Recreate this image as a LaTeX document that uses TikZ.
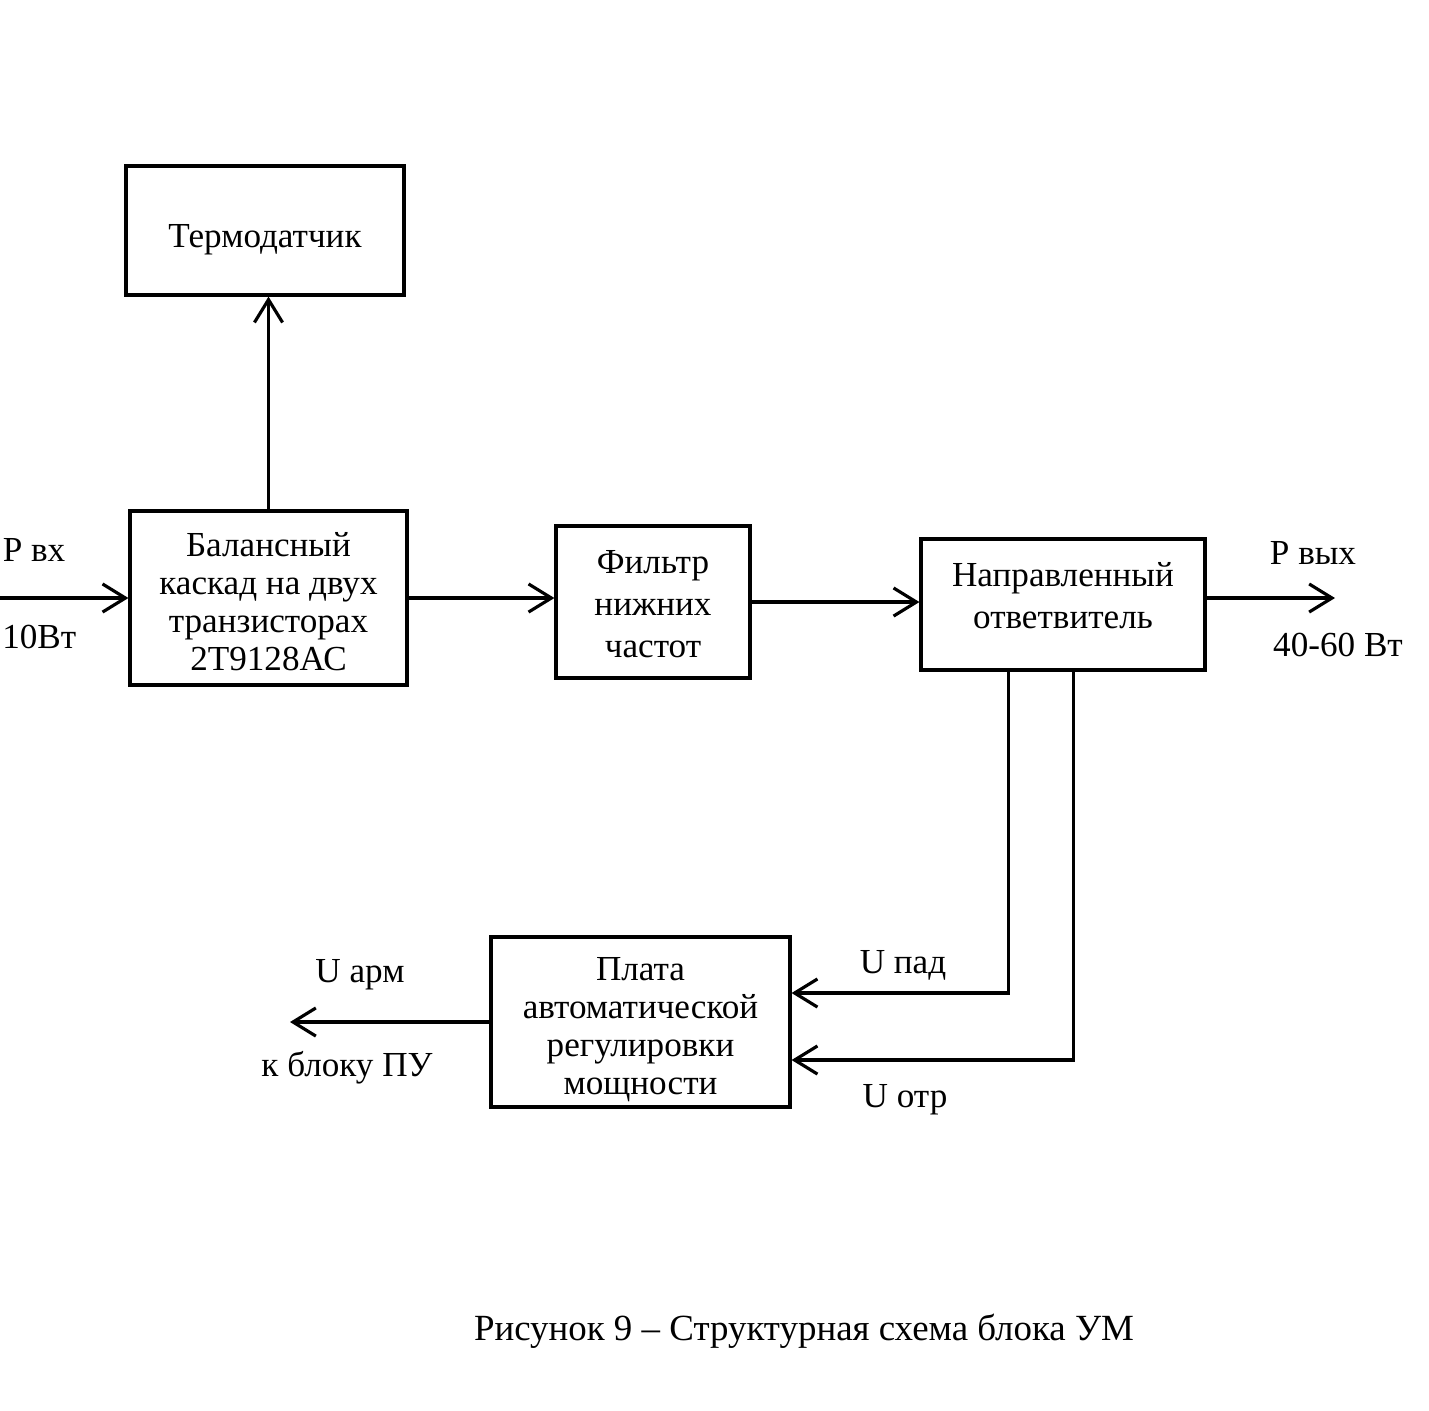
\documentclass[tikz,border=0pt]{standalone}
\usepackage{fontspec}
\setmainfont{Liberation Serif}
\usetikzlibrary{arrows.meta,calc}
\newcommand{\btxt}[3]{\raisebox{#1}[\height][\depth]{\def\arraystretch{#2}\begin{tabular}{@{}c@{}}#3\end{tabular}}}
\begin{document}
\begin{tikzpicture}[
  blk/.style={draw, line width=0.9pt, inner sep=0pt, font=\fontsize{10}{10.8}\selectfont},
  lbl/.style={inner sep=0pt, font=\fontsize{10}{10.8}\selectfont},
  arr/.style={line width=0.9pt, -{Straight Barb[length=6.5pt,width=8pt,line width=0.9pt]}},
  ln/.style={line width=0.9pt}
]
\useasboundingbox (0,0) rectangle (14.29,-14.10);
\fill[white] (0,0) rectangle (14.29,-14.10);

\node[blk, minimum width=2.78cm, minimum height=1.29cm] (termo) at (2.65,-2.305) {\btxt{-0.09cm}{1}{Термодатчик}};
\node[blk, minimum width=2.77cm, minimum height=1.74cm] (bal) at (2.685,-5.98) {\btxt{-0.08cm}{1}{Балансный\\каскад на двух\\транзисторах\\2Т9128АС}};
\node[blk, minimum width=1.94cm, minimum height=1.52cm] (filt) at (6.53,-6.02) {\btxt{-0.05cm}{1.1}{Фильтр\\нижних\\частот}};
\node[blk, minimum width=2.84cm, minimum height=1.31cm] (napr) at (10.63,-6.045) {\btxt{0.05cm}{1.1}{Направленный\\ответвитель}};
\node[blk, minimum width=2.99cm, minimum height=1.70cm] (plata) at (6.405,-10.22) {\btxt{-0.08cm}{1}{Плата\\автоматической\\регулировки\\мощности}};

\coordinate (in) at (0,-5.98);
\coordinate (out) at (13.35,-5.98);
\coordinate (arm) at (2.90,-10.22);

\draw[arr] (bal.north) -- (bal.north |- termo.south);
\draw[arr] (in) -- (bal.west);
\draw[arr] (bal.east) -- (bal.east -| filt.west);
\draw[arr] (filt.east) -- (filt.east -| napr.west);
\draw[arr] (napr.east |- out) -- (out);
\draw[arr] ([xshift=0.89cm]napr.south west) |- ([yshift=0.29cm]plata.east);
\draw[arr] ([xshift=1.54cm]napr.south west) |- ([yshift=-0.38cm]plata.east);
\draw[arr] (plata.west) -- (arm);

\node[lbl, anchor=east] (pin) at (0.66,-5.50) {Р вх};
\node[lbl, anchor=east] (pinw) at (0.77,-6.37) {10Вт};
\node[lbl] (pout) at (13.13,-5.53) {Р вых};
\node[lbl] (poutw) at (13.38,-6.45) {40-60 Вт};
\node[lbl] (upad) at (9.03,-9.65) {U пад};
\node[lbl] (uotr) at (9.05,-11.00) {U отр};
\node[lbl] (uarm) at (3.60,-9.75) {U арм};
\node[lbl] (pu) at (3.47,-10.68) {к блоку ПУ};
\node[lbl, font=\fontsize{10.5}{12}\selectfont] (cap) at (8.04,-13.31) {Рисунок 9 – Структурная схема блока УМ};
\end{tikzpicture}
\end{document}
